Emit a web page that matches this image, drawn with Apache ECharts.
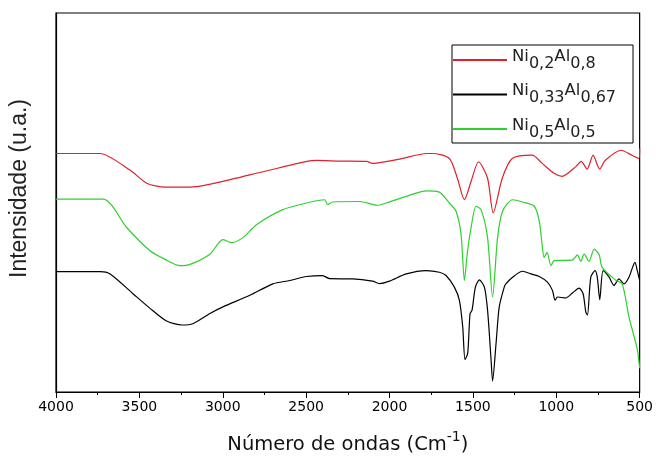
<!DOCTYPE html>
<html>
<head>
<meta charset="utf-8">
<script src="https://cdn.jsdelivr.net/npm/echarts@6/dist/echarts.min.js"></script>
<style>html,body{margin:0;padding:0;background:#fff;}#c{width:656px;height:460px;}</style>
</head>
<body>
<div id="c"></div>
<script>
// Wavenumbers (cm-1) and intensities (a.u.)
const seriesNames = ['Ni0,2Al0,8', 'Ni0,33Al0,67', 'Ni0,5Al0,5'];
const xTicks = [4000, 3500, 3000, 2500, 2000, 1500, 1000, 500];

const redWn  = [4000,3747,3735,3555,3456,3346,3196,2837,2496,2437,2299,2137,2102,2078,1940,1778,1743,1641,1593,1551,1511,1466,1412,1378,1324,1264,1144,1084,1013,965,881,851,815,779,740,707,612,546,504,500];
const redVal = [241,241,241,224,211,207,207,219.5,233,234,233.3,233,231,231.3,235.3,241,241,236,216,194.3,212.7,232.7,216,181,216,236,239.3,231,221,218,228,233,225.3,239.3,225.3,234,244.3,239.3,236,246];

const blackWn  = [4000,3735,3675,3538,3436,3340,3244,3179,3077,2999,2837,2700,2598,2498,2401,2359,2221,2102,2060,2000,1900,1780,1701,1661,1611,1581,1561,1547,1531,1517,1505,1485,1461,1431,1412,1391,1382,1361,1342,1312,1302,1262,1202,1152,1102,1053,1023,1007,993,943,903,863,839,823,813,793,767,754,739,719,683,654,624,594,564,528,514,500];
const blackVal = [121.7,121.7,119.3,99.3,84.5,72,67.7,69,79.3,86,97.7,109.3,112.7,116.7,117.7,114.5,114.3,112,109.5,112,119.3,122.7,121,117.7,106,92.7,66,32.7,39.3,79.3,82.7,106,113.3,106,82.7,32.7,11,49.3,86,106,109.3,116,122,119.3,116.7,111,102.7,92.7,96,95,100,105,99.3,81,77.7,116,122.7,116,93.3,122.7,116,107.7,114.3,109.3,116,131,122.7,112.7];

const greenWn  = [4000,3717,3575,3436,3346,3256,3196,3077,2999,2947,2879,2796,2640,2498,2389,2371,2341,2179,2072,2020,1900,1780,1701,1641,1601,1571,1551,1533,1511,1481,1451,1412,1382,1352,1322,1262,1202,1132,1102,1083,1073,1055,1032,1013,963,903,873,853,833,803,773,743,725,643,604,564,514,500];
const greenVal = [195,195,166,142.7,134,127.7,129,139.3,154,151,156,169.3,184.3,191,194.3,189.3,192,192.5,188.7,191,197.7,203.3,202,191,182.7,159.3,112.7,141,166,187.7,184.3,156,96,156,182.7,194.3,192,187.7,172.7,146,136,141,127.7,132.7,133,133.5,138.5,132,139.3,132,144.3,139,126,113,109,76,43,24];

function zip(a, b) { return a.map((v, i) => [v, b[i]]); }

const chart = echarts.init(document.getElementById('c'), null, {renderer: 'canvas'});
const FONT = '"Liberation Sans", Arial, sans-serif';
const WIDE = '"DejaVu Sans", sans-serif';
const legendRich = {
  n: {fontSize: 16.5, fontFamily: WIDE, color: '#222', padding: [0, 0, 7, 0]},
  s: {fontSize: 16, fontFamily: WIDE, color: '#222', padding: [7, 0, 0, 0]}
};
function legendLabel(name) {
  const m = name.match(/^Ni([\d,]+)Al([\d,]+)$/);
  return '{n|Ni}{s|' + m[1] + '}{n|Al}{s|' + m[2] + '}';
}

chart.setOption({
  animation: false,
  backgroundColor: '#fff',
  grid: {left: 56, right: 15, top: 13, bottom: 64, show: true, borderColor: '#000', borderWidth: 1.2},
  graphic: [{
    type: 'rect', z: 3,
    shape: {x: 452, y: 45, width: 181, height: 98},
    style: {fill: '#fff', stroke: '#000', lineWidth: 1}
  }],
  legend: {
    orient: 'vertical', left: 452, top: 48, padding: 0,
    itemWidth: 54, itemHeight: 22, itemGap: 11,
    data: seriesNames,
    itemStyle: {opacity: 0},
    formatter: legendLabel,
    textStyle: {rich: legendRich}
  },
  xAxis: {
    type: 'value', min: 500, max: 4000, interval: 500, inverse: true,
    axisLine: {show: true, lineStyle: {color: '#000', width: 1.2}},
    axisTick: {show: true, length: 6, lineStyle: {color: '#000'}},
    minorTick: {show: true, splitNumber: 2, length: 3, lineStyle: {color: '#000'}},
    splitLine: {show: false},
    axisLabel: {color: '#000', fontSize: 14, fontFamily: WIDE, margin: 8,
      formatter: v => xTicks.includes(v) ? String(v) : ''},
    name: '{a|Número de ondas (Cm}{b|-1}{a|)}',
    nameLocation: 'middle', nameGap: 36,
    nameTextStyle: {rich: {
      a: {fontSize: 19.5, fontFamily: WIDE, color: '#111', padding: [7, 0, 0, 0]},
      b: {fontSize: 14, fontFamily: WIDE, color: '#111', padding: [0, 0, 9, 0]}
    }}
  },
  yAxis: {
    type: 'value', min: 0, max: 383,
    axisLine: {show: true, lineStyle: {color: '#000', width: 1.2}},
    axisTick: {show: false}, axisLabel: {show: false}, splitLine: {show: false},
    name: 'Intensidade (u.a.)', nameLocation: 'middle', nameGap: 25,
    nameTextStyle: {fontSize: 23, fontFamily: FONT, color: '#222', padding: [0, 0, 0, 28]}
  },
  series: [
    {name: seriesNames[0], type: 'line', data: zip(redWn, redVal), symbol: 'none', smooth: 0.25,
      lineStyle: {color: '#e0202c', width: 1.2}, itemStyle: {color: '#e0202c'}},
    {name: seriesNames[1], type: 'line', data: zip(blackWn, blackVal), symbol: 'none', smooth: 0.25,
      lineStyle: {color: '#000', width: 1.2}, itemStyle: {color: '#000'}},
    {name: seriesNames[2], type: 'line', data: zip(greenWn, greenVal), symbol: 'none', smooth: 0.25,
      lineStyle: {color: '#2ed02e', width: 1.2}, itemStyle: {color: '#2ed02e'}}
  ]
});
</script>
</body>
</html>
